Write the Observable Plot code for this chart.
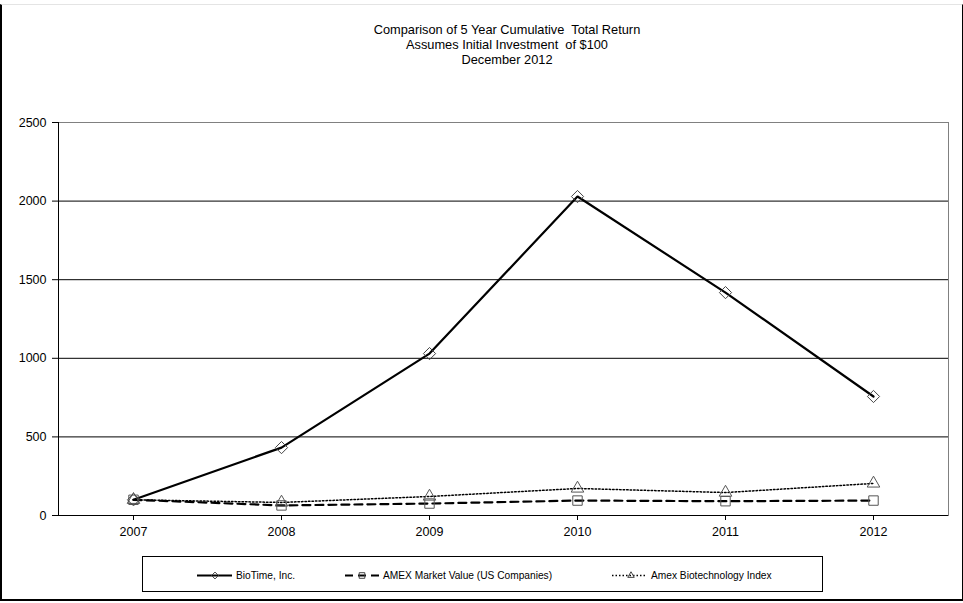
<!DOCTYPE html>
<html>
<head>
<meta charset="utf-8">
<script src="https://cdn.jsdelivr.net/npm/d3@7"></script>
<script src="https://cdn.jsdelivr.net/npm/@observablehq/plot@0.6"></script>
<style>
  body { margin: 0; background: #fff; font-family: "Liberation Sans", Arial, sans-serif; }
  #page { position: relative; width: 963px; height: 603px; overflow: hidden; }
  #frame { position: absolute; left: 0; top: 4px; width: 963px; height: 597px; box-sizing: border-box;
           border-left: 2px solid #000; border-right: 1px solid #000; border-bottom: 2px solid #000; border-top: 1px solid #e4e4e4; }
  #title { position: absolute; left: 200px; width: 614px; top: 22px; text-align: center; font-size: 12.8px; line-height: 15px; color: #000; }
  #chart { position: absolute; left: 0; top: 67px; }
  #legend { position: absolute; left: 142px; top: 556px; width: 681px; height: 36px; box-sizing: border-box; border: 1px solid #000; }
  #legend svg { position: absolute; left: 0; top: 0; }
</style>
</head>
<body>
<div id="page">
  <div id="frame"></div>
  <div id="title">Comparison of 5 Year Cumulative&nbsp; Total Return<br>Assumes Initial Investment&nbsp; of $100<br>December 2012</div>
  <div id="chart"></div>
  <div id="legend"></div>
</div>
<script>
const years = ["2007", "2008", "2009", "2010", "2011", "2012"];
const bioTime = [100, 432, 1030, 2029, 1418, 757];
const amexMarket = [100, 64, 76, 95, 91, 95];
const amexBiotech = [100, 83, 121, 172, 146, 204];
const yTicks = [0, 500, 1000, 1500, 2000, 2500];
const gridTicks = [500, 1000, 1500, 2000];
const seriesNames = ["BioTime, Inc.", "AMEX Market Value (US Companies)", "Amex Biotechnology Index"];

const rows = (vals) => years.map((y, i) => ({year: y, value: vals[i]}));
const bt = rows(bioTime), am = rows(amexMarket), ab = rows(amexBiotech);

const chart = Plot.plot({
  width: 963,
  height: 485,
  marginTop: 55,
  marginBottom: 37,
  marginLeft: 58,
  marginRight: 15,
  style: {fontFamily: "'Liberation Sans', Arial, sans-serif", fontSize: "12.5px", color: "#000", background: "transparent"},
  x: {type: "point", domain: years, padding: 0.5, label: null},
  y: {domain: [0, 2500], label: null},
  marks: [
    Plot.ruleY(gridTicks, {stroke: "#000", strokeWidth: 1}),
    Plot.frame({stroke: "#808080"}),
    Plot.frame({anchor: "left", stroke: "#000"}),
    Plot.ruleY([0], {stroke: "#000", strokeWidth: 1}),
    Plot.axisY({ticks: yTicks, tickSize: 6, tickPadding: 6, tickFormat: d => String(d), label: null, fontSize: 12.5}),
    Plot.axisX({tickSize: 5, tickPadding: 7, label: null, fontSize: 12.5}),
    Plot.line(ab, {x: "year", y: "value", stroke: "#000", strokeWidth: 1.5, strokeDasharray: "1.5,2"}),
    Plot.line(am, {x: "year", y: "value", stroke: "#000", strokeWidth: 2.2, strokeDasharray: "8,5"}),
    Plot.line(bt, {x: "year", y: "value", stroke: "#000", strokeWidth: 2.2}),
    Plot.dot(ab, {x: "year", y: "value", symbol: "triangle2", r: 6, stroke: "#555", strokeWidth: 1, fill: "none"}),
    Plot.dot(am, {x: "year", y: "value", symbol: "square2", r: 6, stroke: "#555", strokeWidth: 1, fill: "none"}),
    Plot.dot(bt, {x: "year", y: "value", symbol: "diamond2", r: 5.5, stroke: "#444", strokeWidth: 1, fill: "none"})
  ]
});
document.getElementById("chart").appendChild(chart);

// Legend
const lg = d3.select("#legend").append("svg").attr("width", 681).attr("height", 36)
  .style("font-family", "'Liberation Sans', Arial, sans-serif").style("font-size", "10.2px");
const items = [
  {x0: 54, x1: 89, cx: 72, dash: null, w: 2, sym: d3.symbolDiamond2, size: 30, label: seriesNames[0], tx: 93},
  {x0: 202, x1: 237, cx: 219, dash: "8,5", w: 2, sym: d3.symbolSquare2, size: 40, label: seriesNames[1], tx: 240},
  {x0: 469, x1: 504, cx: 488, dash: "1.5,2", w: 1.5, sym: d3.symbolTriangle2, size: 30, label: seriesNames[2], tx: 508}
];
items.forEach(it => {
  lg.append("line").attr("x1", it.x0).attr("x2", it.x1).attr("y1", 18.5).attr("y2", 18.5)
    .attr("stroke", "#000").attr("stroke-width", it.w).attr("stroke-dasharray", it.dash);
  lg.append("path").attr("d", d3.symbol(it.sym, it.size)()).attr("transform", `translate(${it.cx},18.5)`)
    .attr("fill", "none").attr("stroke", "#444").attr("stroke-width", 1);
  lg.append("text").attr("x", it.tx).attr("y", 22).text(it.label);
});
</script>
</body>
</html>
